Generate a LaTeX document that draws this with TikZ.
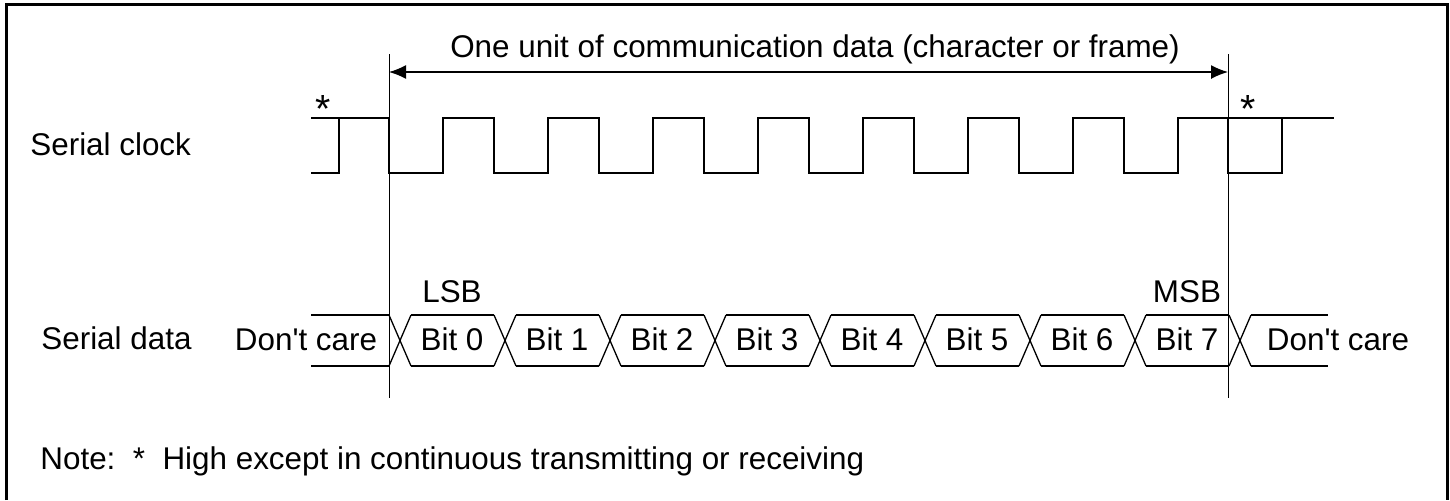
\documentclass[tikz,border=0pt]{standalone}
\usepackage{fontspec}
\setmainfont{Liberation Sans}
\usetikzlibrary{arrows.meta}
\begin{document}
\begin{tikzpicture}[x=0.5pt,y=-0.5pt,>={Latex[length=8.5pt,width=7pt]}, font=\fontsize{15.7}{18}\selectfont, inner sep=0pt, line join=miter,
	clk/.style={line width=0.7pt},
	dat/.style={line width=0.65pt}]
	\def\hi{118} \def\lo{173} % clock levels
	\def\dt{315} \def\db{366} % data levels
	\def\xs{389} \def\xe{1228} % frame limits
	\useasboundingbox (0,0) rectangle (1450,500);
	\draw[line width=1.5pt] (6.5,500)--(6.5,4.5)--(1447.5,4.5)--(1447.5,500);
	% frame limits and arrow
	\coordinate (ts) at (\xs,54); \coordinate (bs) at (\xs,398);
	\coordinate (te) at (\xe,54); \coordinate (be) at (\xe,398);
	\draw[line width=0.4pt] (ts)--(bs) (te)--(be);
	\coordinate (as) at (\xs,72); \coordinate (ae) at (\xe,72);
	\draw[<->,line width=0.7pt] (as)--(ae);
	\node[anchor=base] (unit) at (815,57) {One unit of communication data (character or frame)};
	% serial clock
	\node[anchor=base west] (sclk) at (30,155) {Serial clock};
	\draw[clk] (311,\hi)--(\xs,\hi) \foreach \k in {0,...,7}{--({\xs+105*\k},\lo)--({\xs+54+105*\k},\lo)--({\xs+54+105*\k},\hi)--({\xs+105+105*\k},\hi)}--(1334,\hi);
	\draw[clk] (311,\lo)--(339,\lo)--(339,\hi);
	\draw[clk] (\xe,\hi)--(\xe,\lo)--(1282,\lo)--(1282,\hi);
	\node[anchor=base,scale=1.25] (stl) at (323,122) {*};
	\node[anchor=base,scale=1.25] (str) at (1248,122) {*};
	% serial data
	\node[anchor=base west] (sdat) at (41,349) {Serial data};
	\foreach \k in {0,...,8} \draw[dat] ({\xs+105*\k},\dt)--({\xs+22+105*\k},\db) ({\xs+105*\k},\db)--({\xs+22+105*\k},\dt);
	\foreach \k in {0,...,7} \draw[dat] ({\xs+22+105*\k},\dt)--({\xs+105+105*\k},\dt) ({\xs+22+105*\k},\db)--({\xs+105+105*\k},\db);
	\draw[dat] (311,\dt)--(\xs,\dt) (311,\db)--(\xs,\db) (1251,\dt)--(1328,\dt) (1251,\db)--(1328,\db);
	\foreach \k in {0,...,7} \node[anchor=base] (bit\k) at ({452+105*\k},350) {Bit \k};
	\node[anchor=base] (dcl) at (306,350) {Don\textquotesingle t care};
	\node[anchor=base] (dcr) at (1338,350) {Don\textquotesingle t care};
	\node[anchor=base] (lsb) at (452,302) {LSB};
	\node[anchor=base] (msb) at (1187,302) {MSB};
	% note
	\node[anchor=base west] (note) at (40,469) {Note:\ \ *\ \ High except in continuous transmitting or receiving};
\end{tikzpicture}
\end{document}
